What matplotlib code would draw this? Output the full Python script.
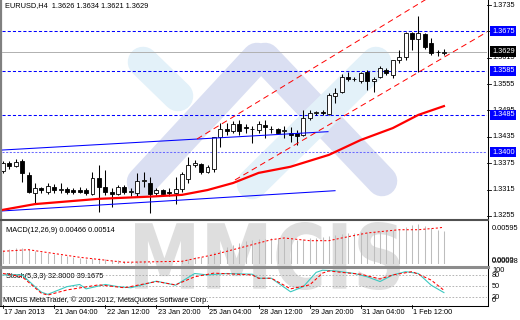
import numpy as np
import matplotlib
matplotlib.use("Agg")
import matplotlib.pyplot as plt
from matplotlib.textpath import TextPath
from matplotlib.patches import PathPatch
from matplotlib.font_manager import FontProperties
from matplotlib.transforms import Affine2D, blended_transform_factory

plt.rcParams['font.family'] = 'Liberation Sans'
plt.rcParams['font.size'] = 5.3

# EURUSD H4 candles (bar 0 = 17 Jan 2013 20:00)
opens = [1.3357, 1.3375, 1.3369, 1.3381, 1.3348, 1.3308, 1.3318, 1.3310, 1.3322, 1.3313,
         1.3316, 1.3314, 1.3314, 1.3314, 1.3305, 1.3341, 1.3320, 1.3310, 1.3305, 1.3320,
         1.3310, 1.3307, 1.3335, 1.3331, 1.3307, 1.3314, 1.3310, 1.3307, 1.3316, 1.3340,
         1.3371, 1.3373, 1.3356, 1.3361, 1.3434, 1.3454, 1.3449, 1.3464, 1.3457, 1.3452,
         1.3451, 1.3461, 1.3452, 1.3452, 1.3448, 1.3444, 1.3443, 1.3439, 1.3477, 1.3490,
         1.3491, 1.3487, 1.3528, 1.3537, 1.3572, 1.3566, 1.3561, 1.3583, 1.3562, 1.3572,
         1.3586, 1.3576, 1.3610, 1.3616, 1.3671, 1.3657, 1.3669, 1.3649, 1.3628, 1.3626]
highs = [1.3380, 1.3379, 1.3384, 1.3384, 1.3356, 1.3329, 1.3322, 1.3329, 1.3328, 1.3329,
         1.3320, 1.3318, 1.3320, 1.3319, 1.3354, 1.3371, 1.3360, 1.3318, 1.3326, 1.3326,
         1.3319, 1.3353, 1.3354, 1.3344, 1.3318, 1.3316, 1.3318, 1.3344, 1.3356, 1.3390,
         1.3382, 1.3375, 1.3371, 1.3435, 1.3467, 1.3467, 1.3471, 1.3473, 1.3464, 1.3460,
         1.3472, 1.3473, 1.3460, 1.3455, 1.3460, 1.3458, 1.3451, 1.3496, 1.3495, 1.3494,
         1.3496, 1.3535, 1.3546, 1.3578, 1.3583, 1.3571, 1.3583, 1.3587, 1.3571, 1.3596,
         1.3591, 1.3610, 1.3633, 1.3674, 1.3674, 1.3710, 1.3671, 1.3659, 1.3633, 1.3634]
lows = [1.3353, 1.3362, 1.3366, 1.3333, 1.3307, 1.3284, 1.3308, 1.3305, 1.3307, 1.3307,
        1.3304, 1.3305, 1.3307, 1.3303, 1.3303, 1.3263, 1.3303, 1.3276, 1.3303, 1.3305,
        1.3300, 1.3298, 1.3322, 1.3262, 1.3303, 1.3300, 1.3300, 1.3282, 1.3310, 1.3331,
        1.3367, 1.3350, 1.3352, 1.3355, 1.3412, 1.3439, 1.3444, 1.3439, 1.3443, 1.3422,
        1.3443, 1.3432, 1.3444, 1.3443, 1.3432, 1.3424, 1.3416, 1.3437, 1.3473, 1.3485,
        1.3485, 1.3485, 1.3512, 1.3535, 1.3562, 1.3561, 1.3558, 1.3542, 1.3537, 1.3568,
        1.3576, 1.3569, 1.3602, 1.3610, 1.3633, 1.3583, 1.3636, 1.3621, 1.3619, 1.3621]
closes = [1.3376, 1.3369, 1.3378, 1.3352, 1.3310, 1.3318, 1.3314, 1.3323, 1.3313, 1.3316,
          1.3309, 1.3310, 1.3309, 1.3308, 1.3341, 1.3322, 1.3309, 1.3305, 1.3322, 1.3309,
          1.3311, 1.3335, 1.3336, 1.3305, 1.3314, 1.3305, 1.3308, 1.3316, 1.3351, 1.3371,
          1.3376, 1.3354, 1.3366, 1.3434, 1.3452, 1.3449, 1.3464, 1.3449, 1.3456, 1.3454,
          1.3464, 1.3457, 1.3453, 1.3444, 1.3450, 1.3439, 1.3437, 1.3477, 1.3489, 1.3491,
          1.3490, 1.3530, 1.3535, 1.3572, 1.3566, 1.3567, 1.3581, 1.3561, 1.3566, 1.3591,
          1.3581, 1.3610, 1.3616, 1.3671, 1.3657, 1.3671, 1.3640, 1.3625, 1.3627, 1.3629]

# moving average (red) read at a few bars
ma_bars = [0, 5, 15, 23, 28, 32, 36, 40, 45, 51, 56, 61, 65, 69]
ma_vals = [1.3269, 1.3282, 1.3294, 1.3299, 1.3303, 1.3314, 1.3330, 1.3353, 1.3367,
           1.3394, 1.3428, 1.3455, 1.3485, 1.3505]

# drawn objects
hlines_blue = [1.3675, 1.3585, 1.3485]
hline_light = 1.3400
bid = 1.3629
blue_tl_bars = [[-0.16, 50.86], [-0.16, 51.96]]
blue_tl_vals = [[1.3405, 1.34468], [1.32664, 1.33125]]
red_ch_bars = [[30.36, 67.0], [36.3, 75.74]]
red_ch_vals = [[1.34302, 1.37550], [1.33369, 1.36736]]

# MACD(12,26,9)
macd_hist = [0.00219, 0.00232, 0.00245, 0.00245, 0.00232, 0.00207, 0.00194, 0.00181, 0.00168, 0.00155,
             0.00142, 0.00129, 0.00116, 0.00103, 0.00116, 0.00116, 0.00103, 0.00090, 0.00090, 0.00077,
             0.00064, 0.00077, 0.00077, 0.00064, 0.00051, 0.00051, 0.00051, 0.00051, 0.00077, 0.00103,
             0.00129, 0.00129, 0.00142, 0.00194, 0.00219, 0.00258, 0.00284, 0.00310, 0.00336, 0.00349,
             0.00362, 0.00362, 0.00375, 0.00375, 0.00362, 0.00362, 0.00349, 0.00362, 0.00375, 0.00375,
             0.00388, 0.00401, 0.00414, 0.00427, 0.00440, 0.00440, 0.00453, 0.00453, 0.00453, 0.00466,
             0.00466, 0.00478, 0.00491, 0.00517, 0.00543, 0.00556, 0.00530, 0.00504, 0.00478, 0.00466]
sig_bars = [0, 4, 12, 19, 28, 33, 39, 42, 44, 48, 51, 53, 57, 62, 65, 68, 69]
sig_vals = [0.00203, 0.00223, 0.00125, 0.00060, 0.00073, 0.00159, 0.00288, 0.00353, 0.00375,
            0.00340, 0.00340, 0.00375, 0.00440, 0.00482, 0.00482, 0.00504, 0.00514]

# Stochastic(5,3,3)
k_bars = [0, 3, 5, 6, 7, 10, 12, 13, 16, 18, 20, 24, 27, 30, 32, 35, 39, 40, 42, 45, 47, 49,
          50, 52, 55, 57, 59, 61, 63, 65, 67, 69]
k_vals = [81, 81, 49, 34, 28, 49, 55, 43, 55, 49, 46, 64, 53, 85, 81, 85, 83, 72, 72, 35, 49, 88,
          94, 92, 85, 76, 63, 81, 90, 85, 53, 32.8]
d_bars = [0, 3, 6, 7, 10, 15, 19, 24, 27, 30, 33, 39, 40, 42, 45, 48, 50, 51, 53, 56, 59, 61,
          64, 65, 67, 69]
d_vals = [85, 76, 31, 26, 40, 54, 46, 63, 54, 76, 86, 81, 72, 72, 43, 54, 86, 92, 88, 83, 70, 81,
          90, 83, 67, 39.17]

date_bars = [0, 8, 16, 24, 32, 40, 48, 56, 64]
date_labels = ['17 Jan 2013', '21 Jan 04:00', '22 Jan 12:00', '23 Jan 20:00', '25 Jan 04:00',
               '28 Jan 12:00', '29 Jan 20:00', '31 Jan 04:00', '1 Feb 12:00']
price_ticks = [1.3735, 1.3675, 1.3615, 1.3555, 1.3495, 1.3435, 1.3375, 1.3315, 1.3255]

W, H = 520, 320
fig = plt.figure(figsize=(5.2, 3.2), dpi=100)
fig.patch.set_facecolor('white')


def px_axes(x0, y0, x1, y1):
    a = fig.add_axes([x0 / W, 1 - y1 / H, (x1 - x0) / W, (y1 - y0) / H])
    a.set_zorder(1)
    a.patch.set_visible(False)
    for s in a.spines.values():
        s.set_visible(False)
    a.set_xticks([])
    a.set_yticks([])
    a.set_xlim(-0.16, 75.74)
    return a


# background layer in pixel units (watermark, frames, free text)
bg = fig.add_axes([0, 0, 1, 1])
bg.set_zorder(0)
bg.set_xlim(0, W)
bg.set_ylim(H, 0)
bg.axis('off')

cyan, lav = '#e3f1f9', '#dadff2'
for (p0, p1, col) in [((143, 62), (178, 96), cyan), ((142, 182), (257, 58), lav),
                      ((265, 58), (382, 181), lav), ((252, 184), (376, 62), cyan)]:
    bg.plot([p0[0], p1[0]], [p0[1], p1[1]], color=col, lw=22, solid_capstyle='round')

tp = TextPath((0, 0), 'MMCIS', size=1, prop=FontProperties(family='DejaVu Sans', weight='bold'))
ext = tp.get_extents()
tr = Affine2D().translate(-ext.x0, -ext.y0).scale(265 / ext.width, -68 / ext.height).translate(135, 290)
bg.add_patch(PathPatch(tr.transform_path(tp), color='#dedede', lw=0))

# frames
bg.plot([1, 1], [0, 305], color='#808080', lw=1.6)
bg.plot([487.5, 487.5], [0, 305.5], color='black', lw=0.75)
bg.plot([0, 487.5], [220, 220], color='#505050', lw=1.5)
bg.plot([0, 487.5], [266.5, 266.5], color='#8c8c8c', lw=2.2)
bg.plot([0, 487.5], [305.5, 305.5], color='black', lw=0.75)

bg.text(5, 6, 'EURUSD,H4  1.3626 1.3634 1.3621 1.3629', va='center')
bg.text(6, 231, 'MACD(12,26,9) 0.00466 0.00514', va='center')
bg.text(6, 277, 'Stoch(5,3,3) 32.8000 39.1675', va='center')
bg.text(3, 300, 'MMCIS MetaTrader, \u00a9 2001-2012, MetaQuotes Software Corp.', va='center')

bg.text(492, 228, '0.00595', va='center')
bg.text(492, 260, '0.0000', va='center')
bg.text(492, 261.5, '0.00038', va='center')
for lab, yy in [('100', 271), ('80', 275.5), ('50', 286.5), ('20', 297.5), ('0', 301)]:
    bg.text(492, yy, lab, va='center')

# ---- main price window
ax = px_axes(2, 0, 487, 219)
ax.set_ylim(1.32481, 1.37464)
idx = np.arange(len(opens))
o, h, l, c = map(np.array, (opens, highs, lows, closes))

for p in hlines_blue:
    ax.axhline(p, color='#0000ff', lw=0.75, dashes=(3, 2), zorder=2)
ax.axhline(hline_light, color='#6a6aff', lw=0.75, dashes=(2, 1.5), zorder=2)
ax.axhline(bid, color='#b0b0b0', lw=0.7, zorder=2)

ax.vlines(idx, l, h, color='black', lw=0.75, zorder=3)
bottoms = np.minimum(o, c)
heights = np.maximum(np.abs(c - o), 0.00004)
ax.bar(idx, heights, 0.62, bottoms, color=np.where(c >= o, 'white', 'black'),
       edgecolor='black', lw=0.6, zorder=4)

for xs, ys in zip(blue_tl_bars, blue_tl_vals):
    ax.plot(xs, ys, color='#0000ff', lw=0.75, zorder=5)
for xs, ys in zip(red_ch_bars, red_ch_vals):
    ax.plot(xs, ys, color='red', lw=0.7, dashes=(6, 4), zorder=5)
ax.plot(ma_bars, ma_vals, color='red', lw=1.6, zorder=6)

ytr = blended_transform_factory(ax.transAxes, ax.transData)
for p in price_ticks:
    ax.plot([1.0, 1.0 + 4 / 485], [p, p], transform=ytr, color='black', lw=0.6, clip_on=False)
    ax.text(1.0103, p, f'{p:.4f}', transform=ytr, va='center', ha='left', clip_on=False, zorder=7)
for p in hlines_blue + [hline_light]:
    ax.text(1.0103, p, f'{p:.4f}', transform=ytr, va='center', ha='left', color='white', zorder=8,
            bbox=dict(boxstyle='square,pad=0.22', fc='#0000ff', ec='none'))
ax.text(1.0103, bid, f'{bid:.4f}', transform=ytr, va='center', ha='left', color='white', zorder=8,
        bbox=dict(boxstyle='square,pad=0.22', fc='black', ec='none'))

# ---- MACD window
mac = px_axes(2, 221, 487, 264)
mac.set_ylim(0.00038, 0.00595)
mac.vlines(idx, 0, macd_hist, color='#bdbdbd', lw=0.75)
mac.plot(sig_bars, sig_vals, color='red', lw=0.75, dashes=(2, 2))

# ---- Stochastic window
sto = px_axes(2, 268, 487, 305)
sto.set_ylim(-1.1, 100)
for lv in [80, 50, 20]:
    sto.axhline(lv, color='#a8a8a8', lw=0.6, dashes=(2, 2))
sto.plot(k_bars, k_vals, color='#3cc8c0', lw=0.8)
sto.plot(d_bars, d_vals, color='red', lw=0.75, dashes=(3, 2))

xtr = blended_transform_factory(sto.transData, sto.transAxes)
for b, lab in zip(date_bars, date_labels):
    sto.plot([b, b], [0, -3 / 37], transform=xtr, color='black', lw=0.6, clip_on=False)
    sto.text(b + 0.2, -0.2, lab, transform=xtr, va='center', ha='left', clip_on=False)

fig.savefig('out.png', dpi=100)
